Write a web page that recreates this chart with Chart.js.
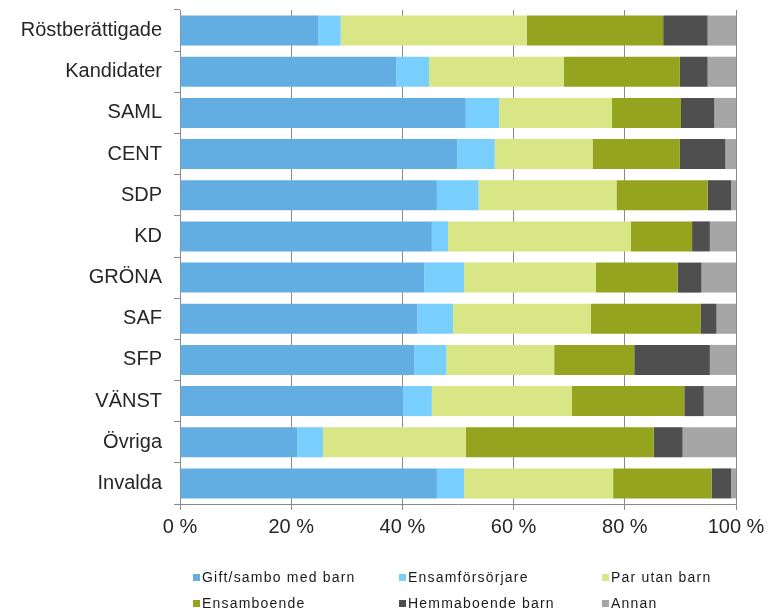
<!DOCTYPE html>
<html>
<head>
<meta charset="utf-8">
<script src="https://cdn.jsdelivr.net/npm/chart.js@4/dist/chart.umd.min.js"></script>
<style>
  html, body { margin: 0; padding: 0; background: #fff; }
  #wrap { position: relative; width: 769px; height: 613px; }
  canvas { position: absolute; left: 0; top: 0; }
  .lg { position: absolute; font-family: "Liberation Sans", Arial, sans-serif; font-size: 14px; letter-spacing: 1.2px; color: #1a1a1a; white-space: nowrap; line-height: 16px; }
  .lg i { display: inline-block; width: 7px; height: 7px; margin-right: 2px; vertical-align: 1px; }
</style>
</head>
<body>
<div id="wrap">
  <canvas id="c" width="769" height="613"></canvas>
</div>
<script>
const categories = ["Röstberättigade", "Kandidater", "SAML", "CENT", "SDP", "KD", "GRÖNA", "SAF", "SFP", "VÄNST", "Övriga", "Invalda"];
const seriesNames = ["Gift/sambo med barn", "Ensamförsörjare", "Par utan barn", "Ensamboende", "Hemmaboende barn", "Annan"];
const giftSambo      = [24.9, 38.9, 51.4, 49.9, 46.2, 45.3, 43.9, 42.7, 42.1, 40.2, 21.1, 46.2];
const ensamforsorjare = [4.0, 5.9, 6.0, 6.7, 7.5, 2.9, 7.2, 6.4, 5.8, 5.1, 4.6, 4.9];
const parUtanBarn    = [33.5, 24.2, 20.3, 17.6, 24.8, 32.9, 23.7, 24.8, 19.4, 25.2, 25.7, 26.8];
const ensamboende    = [24.5, 20.9, 12.4, 15.7, 16.4, 11.0, 14.7, 19.7, 14.4, 20.2, 33.8, 17.7];
const hemmaboende    = [8.0, 5.0, 6.0, 8.2, 4.2, 3.2, 4.3, 2.9, 13.6, 3.5, 5.2, 3.5];
const annan          = [5.1, 5.1, 3.9, 1.9, 0.9, 4.7, 6.2, 3.5, 4.7, 5.8, 9.6, 0.9];
const tickValues = [0, 20, 40, 60, 80, 100];

const colors = ["#62aee3", "#78cffd", "#d9e686", "#94a41f", "#4f4f4f", "#a6a6a6"];
const seriesData = [giftSambo, ensamforsorjare, parUtanBarn, ensamboende, hemmaboende, annan];

const chart = new Chart(document.getElementById('c'), {
  type: 'bar',
  data: {
    labels: categories,
    datasets: seriesNames.map((n, i) => ({
      label: n,
      data: seriesData[i],
      backgroundColor: colors[i],
      borderWidth: 0,
      categoryPercentage: 1,
      barPercentage: 0.73,
      stack: 's'
    }))
  },
  options: {
    indexAxis: 'y',
    responsive: false,
    animation: false,
    devicePixelRatio: 1,
    layout: { padding: { left: 0, right: 33, top: 10, bottom: 69 } },
    plugins: { legend: { display: false }, tooltip: { enabled: false } },
    scales: {
      x: {
        stacked: true,
        min: 0, max: 100,
        afterBuildTicks(scale) { scale.ticks = tickValues.map(v => ({ value: v })); },
        afterFit(scale) { scale.height = 40; scale.paddingLeft = 0; scale.paddingRight = 0; },
        ticks: {
          callback: v => v + ' %',
          color: '#262626',
          font: { family: '"Liberation Sans", Arial, sans-serif', size: 20 },
          padding: 5,
          maxRotation: 0
        },
        grid: { color: '#8a8a8a', lineWidth: 1, tickLength: 6 },
        border: { color: '#8a8a8a' }
      },
      y: {
        stacked: true,
        afterFit(scale) { scale.width = 180; scale.paddingTop = 0; scale.paddingBottom = 0; },
        ticks: {
          color: '#262626',
          font: { family: '"Liberation Sans", Arial, sans-serif', size: 20 },
          padding: 12
        },
        grid: { drawOnChartArea: false, color: '#8a8a8a', tickLength: 6, offset: true },
        border: { color: '#8a8a8a' }
      }
    }
  }
});

// legend (3 columns x 2 rows)
const wrap = document.getElementById('wrap');
const colX = [193, 399, 602];
const rowY = [569, 595];
seriesNames.forEach((n, i) => {
  const d = document.createElement('div');
  d.className = 'lg';
  d.style.left = colX[i % 3] + 'px';
  d.style.top = rowY[Math.floor(i / 3)] + 'px';
  d.innerHTML = '<i style="background:' + colors[i] + '"></i>';
  d.appendChild(document.createTextNode(n));
  wrap.appendChild(d);
});
</script>
</body>
</html>
